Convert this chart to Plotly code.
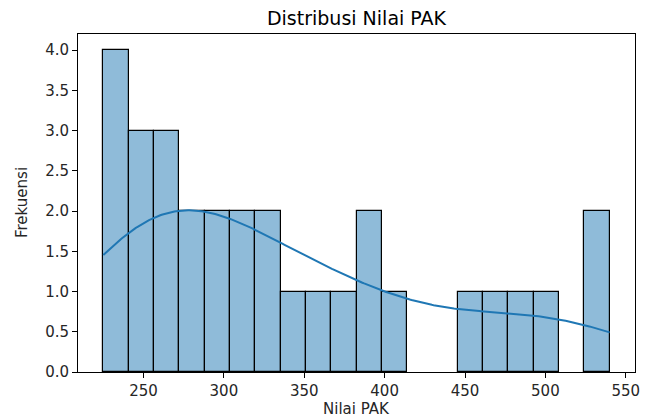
import numpy as np
import plotly.graph_objects as go

nilai_pak = [225, 230, 235, 238,
             244, 249, 253,
             259, 264, 269,
             276, 284,
             292, 300,
             308, 316,
             323, 331,
             343,
             358,
             374,
             386, 394,
             405,
             452,
             469,
             485,
             500,
             532, 540]
n_bins = 20
y_ticks = [0.0, 0.5, 1.0, 1.5, 2.0, 2.5, 3.0, 3.5, 4.0]
x_ticks = [250, 300, 350, 400, 450, 500, 550]

data = np.array(nilai_pak, dtype=float)
lo, hi = data.min(), data.max()
edges = np.linspace(lo, hi, n_bins + 1)
width = edges[1] - edges[0]
counts, _ = np.histogram(data, bins=edges)
centers = (edges[:-1] + edges[1:]) / 2
keep = counts > 0

# Gaussian KDE (Scott's rule), scaled to counts
n = len(data)
bw = data.std(ddof=1) * n ** (-1 / 5)
xs = np.linspace(lo, hi, 300)
dens = np.exp(-0.5 * ((xs[:, None] - data[None, :]) / bw) ** 2).sum(axis=1) / (n * bw * np.sqrt(2 * np.pi))
kde = dens * n * width

fig = go.Figure()
fig.add_trace(go.Bar(
    x=centers[keep], y=counts[keep], width=width,
    marker=dict(color="rgba(31,119,180,0.5)", line=dict(color="black", width=1.2)),
    showlegend=False,
))
fig.add_trace(go.Scatter(
    x=xs, y=kde, mode="lines",
    line=dict(color="#1f77b4", width=2), showlegend=False,
))

# the page body has an 8px margin; figure sized so the plot sits where the reference has it
W, H = 646, 412
L, R, T, B = 70, 19, 26, 48
pw, ph = W - L - R, H - T - B

pad = (hi - lo) * 0.05
fig.update_layout(
    width=W, height=H,
    margin=dict(l=L, r=R, t=T, b=B),
    plot_bgcolor="white", paper_bgcolor="white",
    font=dict(family="DejaVu Sans", size=15, color="#262626"),
    title=dict(text="Distribusi Nilai PAK", x=(L + pw / 2) / W, xanchor="center",
               y=1 - 10 / H, yanchor="middle", font=dict(size=19, color="black")),
    bargap=0,
    annotations=[
        dict(text="Nilai PAK", xref="paper", yref="paper", x=0.5, y=(H - 401 - B) / ph,
             xanchor="center", yanchor="middle", showarrow=False, font=dict(size=15)),
        dict(text="Frekuensi", xref="paper", yref="paper", x=(14 - L) / pw, y=0.5,
             xanchor="center", yanchor="middle", textangle=-90, showarrow=False,
             font=dict(size=15)),
    ],
)
fig.update_xaxes(
    range=[lo - pad, hi + pad], tickvals=x_ticks,
    showline=True, linecolor="black", linewidth=1, mirror=True,
    ticks="outside", ticklen=5, tickcolor="black", showgrid=False, zeroline=False,
    automargin=False, tickfont=dict(size=15),
)
fig.update_yaxes(
    range=[0, 4.2], tickvals=y_ticks, tickformat=".1f",
    showline=True, linecolor="black", linewidth=1, mirror=True,
    ticks="outside", ticklen=5, tickcolor="black", showgrid=False, zeroline=False,
    automargin=False, tickfont=dict(size=15),
)
fig.write_html("out.html")
